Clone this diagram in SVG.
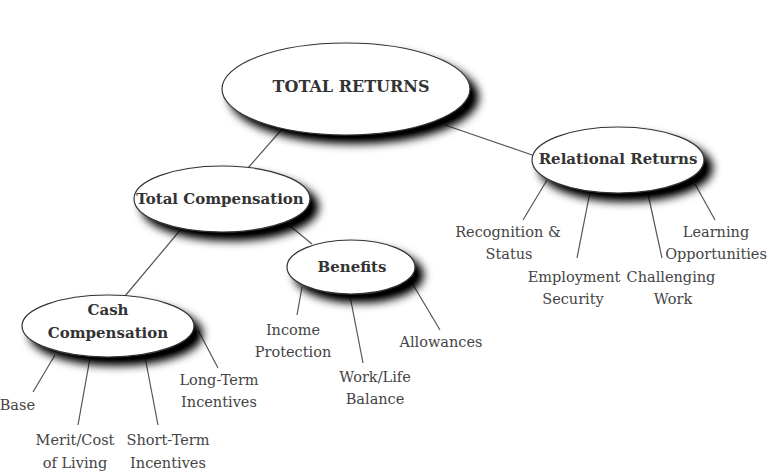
<svg xmlns="http://www.w3.org/2000/svg" width="768" height="472" viewBox="0 0 768 472">
<defs>
<filter id="sh" x="-20%" y="-30%" width="150%" height="170%">
<feGaussianBlur in="SourceAlpha" stdDeviation="5"/>
<feOffset dx="8" dy="8" result="b"/>
<feComponentTransfer><feFuncA type="linear" slope="1.1"/></feComponentTransfer>
<feMerge><feMergeNode/><feMergeNode in="SourceGraphic"/></feMerge>
</filter>
<style>
.n{fill:#fff;stroke:#333;stroke-width:1.2;filter:url(#sh)}
.b{font-family:"DejaVu Serif","Liberation Serif",serif;font-weight:bold;font-size:15px;fill:#333;text-anchor:middle}
.t{font-family:"DejaVu Serif","Liberation Serif",serif;font-size:14.5px;fill:#444;text-anchor:middle}
.c line{stroke:#555;stroke-width:1.2}
</style>
</defs>
<rect width="768" height="472" fill="#fff"/>
<g class="c" id="connectors">
<line x1="283" y1="128" x2="248" y2="168"/>
<line x1="445" y1="125" x2="535" y2="156"/>
<line x1="182" y1="228" x2="125" y2="296"/>
<line x1="290" y1="226" x2="312" y2="244"/>
<line x1="55" y1="355" x2="33" y2="392"/>
<line x1="90" y1="358" x2="78" y2="425"/>
<line x1="145" y1="357" x2="158" y2="425"/>
<line x1="198" y1="330" x2="218" y2="368"/>
<line x1="302" y1="287" x2="297" y2="315"/>
<line x1="350" y1="296" x2="363" y2="363"/>
<line x1="412" y1="283" x2="440" y2="330"/>
<line x1="547" y1="180" x2="523" y2="220"/>
<line x1="590" y1="192" x2="577" y2="258"/>
<line x1="648" y1="194" x2="662" y2="258"/>
<line x1="695" y1="184" x2="715" y2="220"/>
</g>
<g id="total-returns">
<ellipse class="n" cx="346" cy="89" rx="124" ry="46"/>
<text class="b" x="351" y="92" style="font-size:16px">TOTAL RETURNS</text>
</g>
<g id="total-compensation">
<ellipse class="n" cx="222" cy="199" rx="88" ry="33"/>
<text class="b" x="220" y="204">Total Compensation</text>
</g>
<g id="relational-returns">
<ellipse class="n" cx="618" cy="160" rx="86" ry="33"/>
<text class="b" x="618" y="164">Relational Returns</text>
</g>
<g id="cash-compensation">
<ellipse class="n" cx="108" cy="326" rx="86" ry="31"/>
<text class="b" x="108" y="315">Cash</text>
<text class="b" x="108" y="338">Compensation</text>
</g>
<g id="benefits">
<ellipse class="n" cx="351" cy="267" rx="64" ry="27"/>
<text class="b" x="352" y="272">Benefits</text>
</g>
<g id="base"><text class="t" x="35" y="410" style="text-anchor:end">Base</text></g>
<g id="merit"><text class="t" x="75" y="445">Merit/Cost</text><text class="t" x="75" y="468">of Living</text></g>
<g id="short-term"><text class="t" x="168" y="445">Short-Term</text><text class="t" x="168" y="468">Incentives</text></g>
<g id="long-term"><text class="t" x="219" y="385">Long-Term</text><text class="t" x="219" y="407">Incentives</text></g>
<g id="income"><text class="t" x="293" y="335">Income</text><text class="t" x="293" y="357">Protection</text></g>
<g id="worklife"><text class="t" x="375" y="382">Work/Life</text><text class="t" x="375" y="404">Balance</text></g>
<g id="allowances"><text class="t" x="441" y="347">Allowances</text></g>
<g id="recognition"><text class="t" x="508" y="237">Recognition &amp;</text><text class="t" x="509" y="259">Status</text></g>
<g id="employment"><text class="t" x="574" y="282">Employment</text><text class="t" x="573" y="304">Security</text></g>
<g id="challenging"><text class="t" x="671" y="282">Challenging</text><text class="t" x="673" y="304">Work</text></g>
<g id="learning"><text class="t" x="716" y="237">Learning</text><text class="t" x="716" y="259">Opportunities</text></g>
</svg>
